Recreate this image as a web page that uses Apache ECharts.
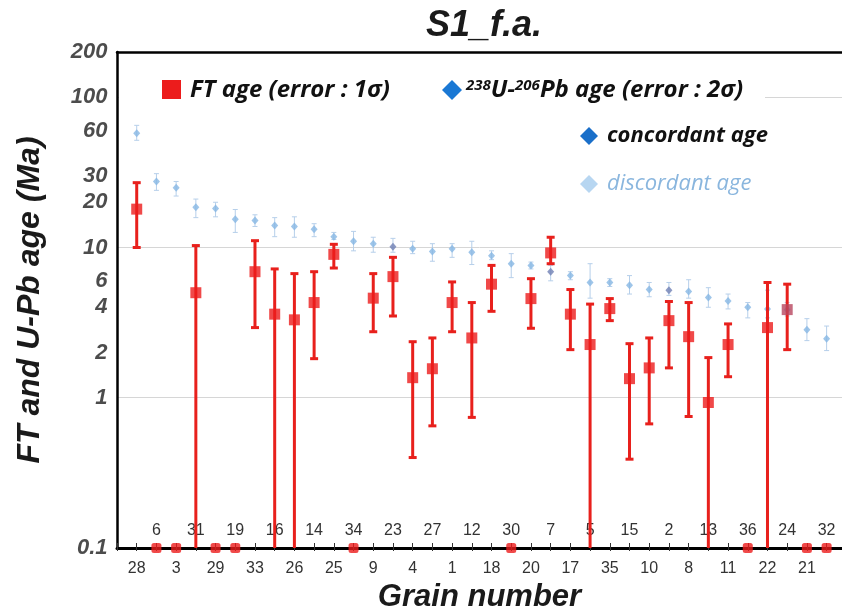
<!DOCTYPE html>
<html><head><meta charset="utf-8">
<script src="https://cdn.jsdelivr.net/npm/echarts@6/dist/echarts.min.js"></script>
<style>html,body{margin:0;padding:0;background:#fff}#c{width:842px;height:608px}</style>
</head><body><div id="c"></div>
<script>
// Grain numbers in plotted order (left to right)
const grains = ['28','6','3','31','29','19','33','16','26','14','25','34','9','23','4','27','1','12',
                '18','30','20','7','17','5','35','15','10','2','8','13','11','36','22','24','21','32'];
// Fission-track ages (Ma), 0 = zero age (drawn on the axis)
const ftAge  = [18, 0, 0, 5.0, 0, 0, 6.9, 3.6, 3.3, 4.3, 9.0, 0, 4.6, 6.4, 1.36, 1.56, 4.3, 2.5,
                5.7, 0, 4.57, 9.2, 3.6, 2.26, 3.92, 1.34, 1.58, 3.26, 2.55, 0.93, 2.26, 0, 2.93, 3.86, 0, 0];
const ftHigh = [27, null, null, 10.3, null, null, 11.1, 7.2, 6.7, 6.9, 10.5, null, 6.7, 8.6, 2.36, 2.5, 5.9, 4.3,
                7.6, null, 6.2, 11.7, 5.25, 4.2, 4.57, 2.29, 2.5, 4.37, 4.3, 1.85, 3.1, null, 5.85, 5.7, null, null];
const ftLow  = [10, null, null, 0, null, null, 2.93, 0, 0, 1.82, 7.3, null, 2.75, 3.5, 0.40, 0.65, 2.75, 0.74,
                3.76, null, 2.9, 7.8, 2.09, 0, 3.26, 0.39, 0.67, 1.58, 0.75, 0, 1.38, null, 0, 2.09, null, null];
// 238U-206Pb ages (Ma) with 2-sigma bounds
const upbAge  = [57.5, 27.5, 25, 18.5, 18.2, 15.4, 15.1, 14.0, 13.8, 13.2, 11.8, 11.0, 10.6, 10.1, 9.8, 9.4, 9.8, 9.3,
                 8.8, 7.8, 7.6, 6.9, 6.5, 5.85, 5.85, 5.6, 5.25, 5.2, 5.1, 4.65, 4.4, 4.0, 3.9, 3.85, 2.84, 2.47];
const upbHigh = [65, 31, 27.5, 21, 20, 17.9, 16.5, 15.8, 16, 14.4, 12.6, 12.8, 11.7, 11.5, 11, 10.6, 10.6, 11,
                 9.5, 9.1, 8.0, 7.6, 6.9, 7.8, 6.2, 6.5, 5.85, 5.85, 6.1, 5.4, 4.9, 4.3, 5.2, 4.3, 3.36, 3.0];
const upbLow  = [51.7, 24, 22, 15.8, 16, 12.6, 13.8, 11.8, 11.7, 11.8, 11.3, 9.5, 9.3, 9.3, 9.1, 8.1, 8.6, 7.7,
                 8.3, 6.3, 7.2, 6.0, 6.1, 4.6, 5.5, 4.9, 4.7, 4.8, 4.6, 4.0, 3.9, 3.4, 3.4, 3.5, 2.4, 2.06];
const concordantGrains = ['23', '7', '2'];
// y axis tick labels
const yTickValues = [0.1, 1, 2, 4, 6, 10, 20, 30, 60, 100, 200];

const Y_MIN = 0.1, Y_MAX = 200, X_MAX = 36.78;
const clampY = v => Math.max(v, Y_MIN);

const ftPoints = [], ftZero = [], ftBars = [];
const upbDisc = [], upbConc = [], upbBars = [];
grains.forEach((g, i) => {
  const x = i + 1;
  if (ftAge[i] > 0) {
    const item = { value: [x, ftAge[i]] };
    if (g === '24') item.itemStyle = { color: '#b8465f' };
    ftPoints.push(item);
  } else {
    ftZero.push([x, clampY(ftAge[i])]);
  }
  if (ftHigh[i] != null) ftBars.push([x, clampY(ftLow[i]), ftHigh[i], ftLow[i] > 0 ? 1 : 0]);
  if (concordantGrains.includes(g)) upbConc.push([x, upbAge[i]]); else upbDisc.push([x, upbAge[i]]);
  upbBars.push([x, upbLow[i], upbHigh[i], 1]);
});

function barRenderer(color, lw, cap) {
  return (params, api) => {
    const x = api.value(0), lo = api.value(1), hi = api.value(2), capLow = api.value(3);
    const p1 = api.coord([x, hi]), p2 = api.coord([x, lo]);
    const style = { stroke: color, lineWidth: lw };
    const children = [
      { type: 'line', shape: { x1: p1[0], y1: p1[1], x2: p2[0], y2: p2[1] }, style },
      { type: 'line', shape: { x1: p1[0] - cap, y1: p1[1], x2: p1[0] + cap, y2: p1[1] }, style }
    ];
    if (capLow) children.push({ type: 'line', shape: { x1: p2[0] - cap, y1: p2[1], x2: p2[0] + cap, y2: p2[1] }, style });
    return { type: 'group', children };
  };
}

const BI = { fontFamily: 'Liberation Sans', fontWeight: 'bold', fontStyle: 'italic' };
const legendFont = 'italic bold 24px "Open Sans"';

const chart = echarts.init(document.getElementById('c'), null, { renderer: 'canvas' });
chart.setOption({
  backgroundColor: '#fff',
  animation: false,
  title: {
    text: 'S1_f.a.', left: 484, top: 8, padding: 0, textAlign: 'center',
    textStyle: Object.assign({ fontSize: 36, color: '#1a1a1a' }, BI)
  },
  grid: { left: 117, right: 0, top: 52, bottom: 60, containLabel: false, outerBoundsMode: 'none' },
  xAxis: [
    {
      type: 'value', min: 0, max: X_MAX, interval: 1, position: 'bottom',
      name: 'Grain number', nameLocation: 'middle', nameGap: 26,
      nameTextStyle: Object.assign({ fontSize: 31, color: '#1a1a1a' }, BI),
      axisLine: { show: true, lineStyle: { color: '#000', width: 3 } },
      axisTick: { show: true, inside: false, length: 3, lineStyle: { color: '#333', width: 1 } },
      axisLabel: {
        margin: 13, fontSize: 16, color: '#333', fontFamily: 'Liberation Sans',
        formatter: v => (Number.isInteger(v) && v >= 1 && v <= grains.length && (v - 1) % 2 === 0) ? grains[v - 1] : ''
      },
      splitLine: { show: false }
    },
    {
      type: 'value', min: 0, max: X_MAX, interval: 1, position: 'bottom',
      axisLine: { show: false },
      axisTick: { show: true, inside: true, length: 5, lineStyle: { color: '#333', width: 1 } },
      axisLabel: {
        inside: true, margin: 9, fontSize: 16, color: '#333', fontFamily: 'Liberation Sans',
        formatter: v => (Number.isInteger(v) && v >= 1 && v <= grains.length && (v - 1) % 2 === 1) ? grains[v - 1] : ''
      },
      splitLine: { show: false }
    },
    {
      type: 'value', min: 0, max: X_MAX, position: 'top',
      axisLine: { show: true, lineStyle: { color: '#000', width: 2.5 } },
      axisTick: { show: false }, axisLabel: { show: false }, splitLine: { show: false }
    }
  ],
  yAxis: {
    type: 'log', logBase: 10, min: Y_MIN, max: Y_MAX,
    name: 'FT and U-Pb age (Ma)', nameLocation: 'middle', nameGap: 71, nameRotate: 90,
    nameTextStyle: Object.assign({ fontSize: 32, color: '#1a1a1a' }, BI),
    axisLine: { show: true, lineStyle: { color: '#000', width: 2.5 } },
    axisTick: { show: false },
    axisLabel: { show: false },
    splitLine: { show: true, lineStyle: { color: '#d6d6d6', width: 1 } }
  },
  series: [
    { type: 'custom', name: 'U-Pb error', renderItem: barRenderer('#b6cfea', 1, 2.5), data: upbBars,
      encode: { x: 0, y: [1, 2] }, z: 2, silent: true },
    { type: 'scatter', name: 'discordant age', data: upbDisc, symbol: 'diamond', symbolSize: [7, 8],
      itemStyle: { color: '#86b6e4' }, z: 3 },
    { type: 'scatter', name: 'concordant age', data: upbConc, symbol: 'diamond', symbolSize: [7, 8],
      itemStyle: { color: '#6f80b4' }, z: 3 },
    { type: 'custom', name: 'FT error', renderItem: barRenderer('#e8201c', 3, 4), data: ftBars,
      encode: { x: 0, y: [1, 2] }, z: 4, silent: true },
    { type: 'scatter', name: 'FT age', data: ftPoints, symbol: 'rect', symbolSize: 11,
      itemStyle: { color: '#ec1c1c' }, z: 5 },
    { type: 'scatter', name: 'FT zero age', data: ftZero, symbol: 'roundRect', symbolSize: 10,
      itemStyle: { color: '#ec1c1c' }, z: 5 },
    { type: 'scatter', name: 'y ticks', data: yTickValues.map(v => [0, v]), symbolSize: 1, silent: true,
      itemStyle: { color: 'rgba(0,0,0,0)' }, z: 10,
      label: Object.assign({ show: true, position: 'left', distance: 9, fontSize: 22, color: '#1f1f1f',
        formatter: p => String(p.value[1]) }, BI) }
  ],
  graphic: [
    { type: 'rect', shape: { x: 119, y: 70, width: 646, height: 40 }, style: { fill: '#fff' }, z: 20 },
    { type: 'rect', shape: { x: 162, y: 80, width: 19, height: 19 }, style: { fill: '#ec1c1c' }, z: 21 },
    { type: 'text', x: 190, y: 90, z: 21,
      style: { text: 'FT age (error : 1σ)', font: legendFont, fill: '#111', verticalAlign: 'middle', align: 'left' } },
    { type: 'polygon', shape: { points: [[452, 80], [462, 90], [452, 100], [442, 90]] }, style: { fill: '#1a78d4' }, z: 21 },
    { type: 'text', x: 466, y: 90, z: 21,
      style: { text: '{s|238}U-{s|206}Pb age (error : 2σ)', font: legendFont, fill: '#111', verticalAlign: 'middle', align: 'left',
        rich: { s: { fontSize: 15, fontFamily: 'Open Sans', fontWeight: 'bold', fontStyle: 'italic', fill: '#111', verticalAlign: 'top' } } } },
    { type: 'polygon', shape: { points: [[589, 127], [598, 136], [589, 145], [580, 136]] }, style: { fill: '#1a6fc9' }, z: 21 },
    { type: 'text', x: 607, y: 136, z: 21,
      style: { text: 'concordant age', font: 'italic bold 22px "Open Sans"', fill: '#111', verticalAlign: 'middle', align: 'left' } },
    { type: 'polygon', shape: { points: [[589, 175], [598, 184], [589, 193], [580, 184]] }, style: { fill: '#b7d6f1' }, z: 21 },
    { type: 'text', x: 607, y: 184, z: 21,
      style: { text: 'discordant age', font: 'italic 22px "Open Sans"', fill: '#8ab6de', verticalAlign: 'middle', align: 'left' } }
  ]
});
</script></body></html>
